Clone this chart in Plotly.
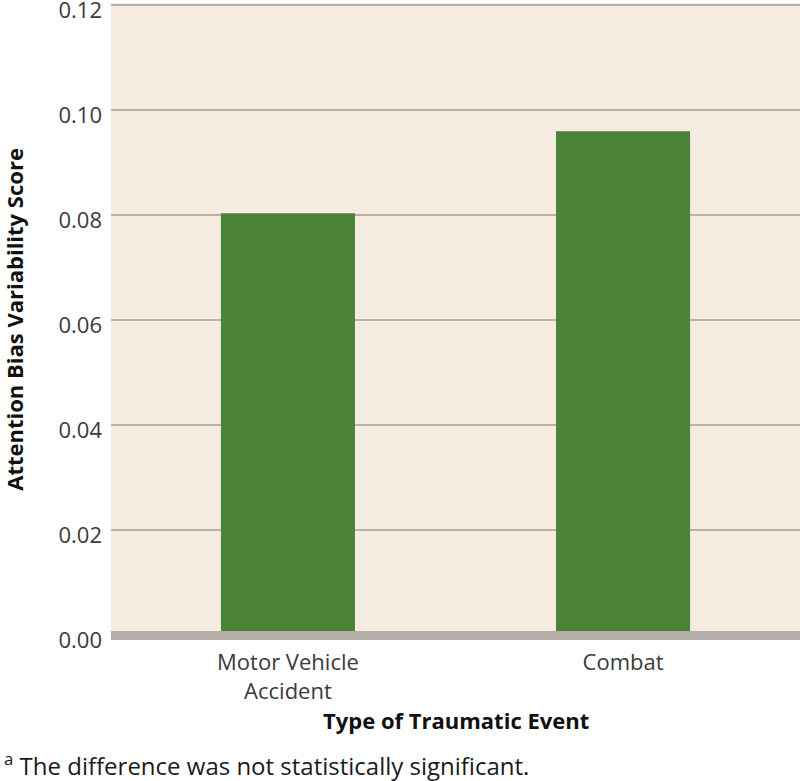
import plotly.graph_objects as go

categories = ["Motor Vehicle<br>Accident", "Combat"]
scores = [0.0804, 0.0960]
y_ticks = [0.00, 0.02, 0.04, 0.06, 0.08, 0.10, 0.12]
y_tick_labels = ["0.00", "0.02", "0.04", "0.06", "0.08", "0.10", "0.12"]

fig = go.Figure()

fig.add_trace(
    go.Bar(
        x=categories,
        y=scores,
        width=0.4,
        marker=dict(color="#4a8237", line=dict(width=0)),
        showlegend=False,
    )
)

# thick baseline band at zero, drawn above bars
fig.add_shape(
    type="rect",
    xref="paper", yref="y",
    x0=0, x1=1, y0=-0.00086, y1=0.00086,
    fillcolor="#b5aea8", line=dict(width=0),
    layer="above",
)

# axis titles and footnote
fig.add_annotation(
    text="<b>Type of Traumatic Event</b>",
    xref="paper", yref="paper",
    x=0.5, y=-0.126, xanchor="center", yanchor="middle",
    showarrow=False,
    font=dict(family="Open Sans", size=22, color="#111111"),
)
fig.add_annotation(
    text="<b>Attention Bias Variability Score</b>",
    xref="paper", yref="paper",
    x=-0.141, y=0.504, xanchor="center", yanchor="middle",
    textangle=-90,
    showarrow=False,
    font=dict(family="Open Sans", size=22, color="#111111"),
)
fig.add_annotation(
    text="<sup>a</sup> The difference was not statistically significant.",
    xref="paper", yref="paper",
    x=-0.158, y=-0.195, xanchor="left", yanchor="middle",
    showarrow=False,
    font=dict(family="Open Sans", size=24, color="#1a1a1a"),
)

fig.update_layout(
    width=800,
    height=781,
    margin=dict(l=111, r=0, t=3, b=141),
    paper_bgcolor="white",
    plot_bgcolor="#f5ebe0",
    font=dict(family="Open Sans", size=22, color="#3a3a3a"),
)

fig.update_xaxes(
    range=[-0.528, 1.528],
    automargin=False,
    showgrid=False,
    showline=False,
    ticks="",
    ticklabelstandoff=7,
    tickfont=dict(family="Open Sans", size=22, color="#3a3a3a"),
)

fig.update_yaxes(
    range=[-0.00086, 0.1204],
    automargin=False,
    tickvals=y_ticks,
    ticktext=y_tick_labels,
    showgrid=True,
    gridcolor="#b8b1ab",
    gridwidth=1.5,
    zeroline=False,
    showline=False,
    ticks="",
    ticklabelstandoff=8,
    ticklabelshift=5,
    ticklabeloverflow="allow",
    tickfont=dict(family="Open Sans", size=22, color="#3a3a3a"),
)

fig.write_html(
    "out.html",
    config={"displayModeBar": False},
    post_script="document.body.style.margin='0';document.body.style.overflow='hidden';",
)
